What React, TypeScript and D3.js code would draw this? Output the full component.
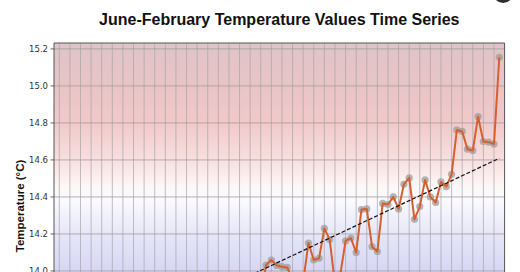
import React from 'react';
import * as d3 from 'd3';

// ---- data ----
const firstYear = 1941;
const temps: number[] = [
  // 1941-1979 (below the visible window)
  13.62, 13.55, 13.58, 13.7, 13.6, 13.52, 13.57, 13.54, 13.5, 13.45,
  13.58, 13.6, 13.66, 13.5, 13.47, 13.44, 13.63, 13.68, 13.6, 13.56,
  13.62, 13.6, 13.64, 13.46, 13.52, 13.58, 13.55, 13.54, 13.7, 13.6,
  13.5, 13.68, 13.76, 13.52, 13.55, 13.48, 13.78, 13.72, 13.86,
  // 1980-2024
  14.032, 14.059, 14.03, 14.023, 14.019, 13.95, 13.9, 13.94, 14.151, 14.059,
  14.068, 14.23, 14.17, 13.93, 13.98, 14.162, 14.178, 14.099, 14.332, 14.335,
  14.131, 14.105, 14.365, 14.359, 14.4, 14.335, 14.468, 14.503, 14.279, 14.348,
  14.492, 14.4, 14.37, 14.481, 14.456, 14.522, 14.762, 14.754, 14.658, 14.651,
  14.834, 14.699, 14.696, 14.686, 15.155,
];
const trendYears = [1941, 2024];
const trendValues = [13.49, 14.609];
const yTicks = [13.6, 13.8, 14.0, 14.2, 14.4, 14.6, 14.8, 15.0, 15.2];
const xDomain = [1940, 2025];
const yDomain = [13.47, 15.232];
const gridYears = d3.range(1941, 2024, 2);
const bgStops: [number, string][] = [
  [15.232, '#dfc4c7'],
  [15.0, '#e9c4c6'],
  [14.8, '#f1c9c9'],
  [14.6, '#f8dfdf'],
  [14.45, '#fdf8f8'],
  [14.38, '#fafaff'],
  [14.2, '#e6e6f8'],
  [14.0, '#d7d7f4'],
  [13.47, '#c4c4ef'],
];

const W = 520;
const H = 272;
const L = 54;
const R = 504.6;
const T = 43;
const B = 369;

export default function App() {
  const x = d3.scaleLinear().domain(xDomain).range([L, R]);
  const y = d3.scaleLinear().domain(yDomain).range([B, T]);
  const pts = temps.map((v, i) => [firstYear + i, v] as [number, number]);
  const line = d3.line<[number, number]>().x((d) => x(d[0])).y((d) => y(d[1]));
  const yTop = y(yDomain[1]);
  const yBot = y(yDomain[0]);
  return (
    <svg
      width={W}
      height={H}
      style={{ position: 'fixed', left: 0, top: 0, background: '#fff' }}
    >
      <defs>
        <linearGradient id="bg" gradientUnits="userSpaceOnUse" x1={0} x2={0} y1={yTop} y2={yBot}>
          {bgStops.map(([v, c], i) => (
            <stop key={i} offset={(y(v) - yTop) / (yBot - yTop)} stopColor={c} />
          ))}
        </linearGradient>
        <clipPath id="plot">
          <rect x={L} y={T} width={R - L} height={B - T} />
        </clipPath>
      </defs>
      <rect x={0} y={0} width={W} height={H} fill="#fff" />
      <circle cx={503} cy={-7} r={10} fill="#2e2e2e" />
      <text
        x={(L + R) / 2}
        y={25}
        textAnchor="middle"
        fontFamily="'Liberation Sans', Arial, sans-serif"
        fontWeight="bold"
        fontSize={16}
        fill="#111"
      >
        June-February Temperature Values Time Series
      </text>
      <rect x={L} y={T} width={R - L} height={B - T} fill="url(#bg)" />
      <g clipPath="url(#plot)">
        {gridYears.map((g) => (
          <line key={g} x1={x(g)} x2={x(g)} y1={T} y2={B} stroke="#a8a4a8" strokeOpacity={0.7} strokeWidth={1} />
        ))}
        {yTicks.map((t) => (
          <line key={t} x1={L} x2={R} y1={y(t)} y2={y(t)} stroke="#a09ca0" strokeOpacity={0.8} strokeWidth={1} />
        ))}
        {pts.map((p, i) => (
          <circle key={i} cx={x(p[0])} cy={y(p[1])} r={3.6} fill="#9c9c9c" fillOpacity={0.75} />
        ))}
        <path d={line(pts) || ''} fill="none" stroke="#d65f2e" strokeWidth={2} strokeLinejoin="round" />
        <line
          x1={x(trendYears[0])}
          x2={x(trendYears[1])}
          y1={y(trendValues[0])}
          y2={y(trendValues[1])}
          stroke="#111"
          strokeWidth={1.2}
          strokeDasharray="4,2"
        />
      </g>
      <path d={`M${L},${B}V${T}H${R}V${B}`} fill="none" stroke="#555" strokeWidth={1} />
      {yTicks.map((t) => (
        <g key={t}>
          <line x1={L - 3.5} x2={L} y1={y(t)} y2={y(t)} stroke="#444" strokeWidth={0.8} />
          <text
            x={L - 6}
            y={y(t)}
            dy="0.35em"
            textAnchor="end"
            fontFamily="'DejaVu Sans', sans-serif"
            fontSize={8.5}
            fill="#333"
          >
            {t.toFixed(1)}
          </text>
        </g>
      ))}
      <text
        transform={`translate(20,${(T + B) / 2}) rotate(-90)`}
        textAnchor="middle"
        dy="0.35em"
        fontFamily="'Liberation Sans', Arial, sans-serif"
        fontWeight="bold"
        fontSize={11.5}
        fill="#111"
      >
        Temperature (°C)
      </text>
    </svg>
  );
}
